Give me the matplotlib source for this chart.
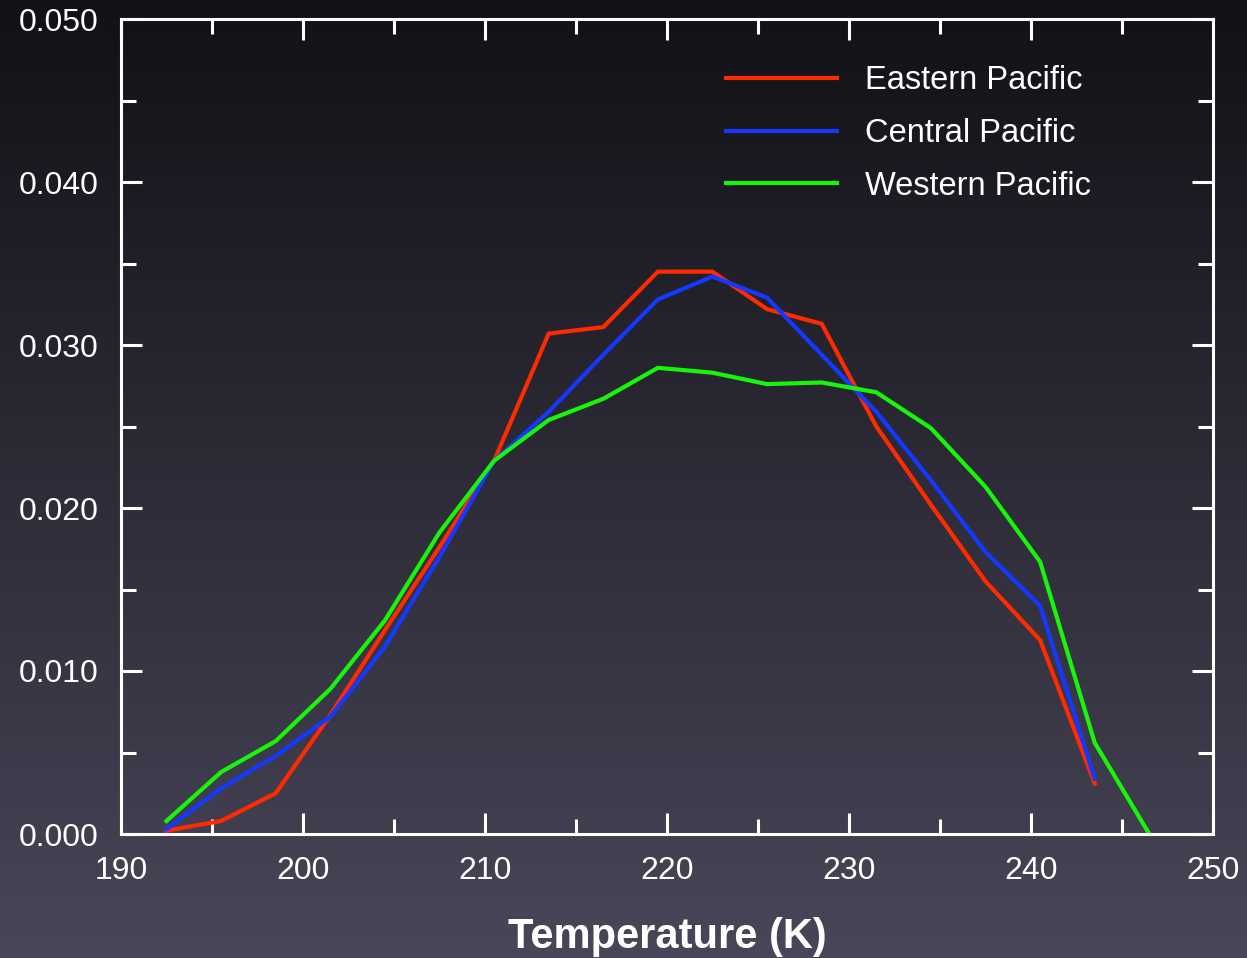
import numpy as np
import matplotlib
matplotlib.use("Agg")
import matplotlib.pyplot as plt
from matplotlib.ticker import MultipleLocator, FormatStrFormatter

plt.rcParams['font.family'] = ['Liberation Sans', 'DejaVu Sans']

temperature = [192.5, 195.5, 198.5, 201.5, 204.5, 207.5, 210.5, 213.5, 216.5, 219.5,
               222.5, 225.5, 228.5, 231.5, 234.5, 237.5, 240.5, 243.5, 246.5]

eastern = [0.0002, 0.0008, 0.0025, 0.0073, 0.0125, 0.0176, 0.0229, 0.0307, 0.0311, 0.0345,
           0.0345, 0.0322, 0.0313, 0.0250, 0.0202, 0.0155, 0.0119, 0.0031]
central = [0.0003, 0.0028, 0.0048, 0.0072, 0.0115, 0.0170, 0.0229, 0.0259, 0.0294, 0.0328,
           0.0342, 0.0329, 0.0294, 0.0259, 0.0217, 0.0173, 0.0140, 0.0034]
western = [0.0008, 0.0038, 0.0057, 0.0089, 0.0131, 0.0185, 0.0229, 0.0254, 0.0267, 0.0286,
           0.0283, 0.0276, 0.0277, 0.0271, 0.0249, 0.0213, 0.0167, 0.0056, 0.0000]

series_names = ["Eastern Pacific", "Central Pacific", "Western Pacific"]
series_colors = ["#ff2a00", "#1438ff", "#17f50a"]

W, H = 1247, 958
fig = plt.figure(figsize=(W / 100, H / 100), dpi=100)

# background gradient
bg = fig.add_axes([0, 0, 1, 1], zorder=-10)
top = np.array([18, 17, 22]) / 255.0
bot = np.array([72, 70, 88]) / 255.0
t = np.linspace(0, 1, 256)[:, None]
grad = top[None, :] * (1 - t) + bot[None, :] * t
bg.imshow(grad[:, None, :], aspect='auto', extent=[0, 1, 0, 1])
bg.set_axis_off()

ax = fig.add_axes([121 / W, 1 - 834 / H, (1213 - 121) / W, (834 - 19) / H])
ax.patch.set_alpha(0)

for vals, name, col in zip([eastern, central, western], series_names, series_colors):
    ax.plot(temperature[:len(vals)], vals, color=col, lw=3.0, label=name,
            solid_joinstyle='miter')

ax.set_xlim(190, 250)
ax.set_ylim(0, 0.05)
ax.xaxis.set_major_locator(MultipleLocator(10))
ax.xaxis.set_minor_locator(MultipleLocator(5))
ax.yaxis.set_major_locator(MultipleLocator(0.01))
ax.yaxis.set_minor_locator(MultipleLocator(0.005))
ax.yaxis.set_major_formatter(FormatStrFormatter('%.3f'))

for s in ax.spines.values():
    s.set_color('white')
    s.set_linewidth(2.2)

ax.tick_params(which='both', direction='in', top=True, right=True, colors='white',
               width=2.2, labelsize=23, pad=16)
ax.tick_params(which='major', length=15)
ax.tick_params(which='minor', length=11)
for lbl in ax.get_xticklabels() + ax.get_yticklabels():
    lbl.set_color('white')

ax.set_xlabel("Temperature (K)", color='white', fontsize=30, fontweight='bold', labelpad=22)

leg = ax.legend(loc='upper right', bbox_to_anchor=(0.915, 0.9795), frameon=False,
                fontsize=23.5, handlelength=3.4, handletextpad=0.86, labelspacing=0.67)
for txt in leg.get_texts():
    txt.set_color('white')

fig.savefig("out.png", dpi=100, facecolor=fig.get_facecolor())
